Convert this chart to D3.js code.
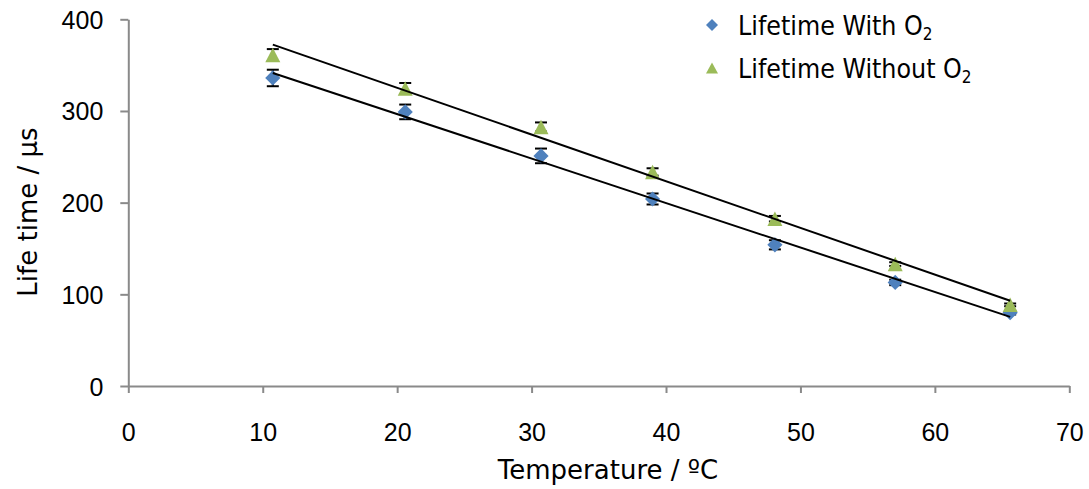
<!DOCTYPE html>
<html>
<head>
<meta charset="utf-8">
<script src="https://cdn.jsdelivr.net/npm/d3@7/dist/d3.min.js"></script>
<style>
  html, body { margin: 0; padding: 0; background: #ffffff; }
  svg { display: block; }
</style>
</head>
<body>
<svg id="chart" width="1089" height="489"></svg>
<script>
// Temperature (°C) of each measurement
const temperatures = [10.75, 20.6, 30.7, 39.0, 48.1, 57.05, 65.6];
// Luminescence lifetime (µs) with oxygen present
const lifetimeWithO2 = [336, 299, 251, 204, 154, 113, 80];
const lifetimeWithO2Err = [9, 8, 8, 6, 5, 3, 2];
// Luminescence lifetime (µs) without oxygen
const lifetimeWithoutO2 = [361, 324.5, 282.5, 233.5, 182.5, 133, 88.5];
const lifetimeWithoutO2Err = [6.5, 6, 5, 4, 3, 2, 1.5];

const xTicks = [0, 10, 20, 30, 40, 50, 60, 70];
const yTicks = [0, 100, 200, 300, 400];

const colorWith = "#4f81bd";
const colorWithout = "#9bbb59";
const axisColor = "#8a8a8a";

const svg = d3.select("#chart");

const x = d3.scaleLinear().domain([0, 70]).range([128.3, 1069.3]);
const y = d3.scaleLinear().domain([0, 400]).range([386, 19.3]);

// Axes
const tickFont = "'Liberation Sans', Arial, sans-serif";

const yAxis = svg.append("g")
  .attr("transform", `translate(${x(0)},0)`)
  .call(d3.axisLeft(y).tickValues(yTicks).tickSize(8).tickSizeOuter(0).tickPadding(17));
const xAxis = svg.append("g")
  .attr("transform", `translate(0,${y(0)})`)
  .call(d3.axisBottom(x).tickValues(xTicks).tickSize(7).tickSizeOuter(0).tickPadding(30));

[yAxis, xAxis].forEach(g => {
  g.select(".domain").attr("stroke", axisColor).attr("stroke-width", 2);
  g.selectAll(".tick line").attr("stroke", axisColor).attr("stroke-width", 2);
  g.selectAll(".tick text")
    .attr("fill", "#000")
    .style("font-family", tickFont)
    .style("font-size", "25px");
});
yAxis.selectAll(".tick text").attr("dy", "0.36em");
xAxis.selectAll(".tick text").attr("dy", "0.71em");

// Axis titles
const titleFont = "'DejaVu Sans Condensed', 'DejaVu Sans', sans-serif";
svg.append("text")
  .attr("x", 608).attr("y", 479)
  .attr("text-anchor", "middle")
  .style("font-family", "'DejaVu Sans', sans-serif").style("font-size", "26px")
  .text("Temperature / ºC");

svg.append("text")
  .attr("transform", "translate(36.5,212) rotate(-90)")
  .attr("text-anchor", "middle")
  .style("font-family", "'DejaVu Sans', sans-serif").style("font-size", "26px")
  .text("Life time / µs");

// Marker shapes
const diamond = s => `M0,${-s}L${s},0L0,${s}L${-s},0Z`;
const triangle = (w, h) => `M0,${-h / 2}L${w / 2},${h / 2}L${-w / 2},${h / 2}Z`;

function drawSeries(values, errors, color, shape) {
  const pts = temperatures.map((t, i) => ({ t, v: values[i], e: errors[i] }));
  const g = svg.append("g");
  // error bars (behind markers)
  const eb = g.selectAll("g.err").data(pts).enter().append("g")
    .attr("stroke", "#000").attr("stroke-width", 2);
  eb.append("line")
    .attr("x1", d => x(d.t)).attr("x2", d => x(d.t))
    .attr("y1", d => y(d.v + d.e)).attr("y2", d => y(d.v - d.e));
  eb.append("line")
    .attr("x1", d => x(d.t) - 6).attr("x2", d => x(d.t) + 6)
    .attr("y1", d => y(d.v + d.e)).attr("y2", d => y(d.v + d.e));
  eb.append("line")
    .attr("x1", d => x(d.t) - 6).attr("x2", d => x(d.t) + 6)
    .attr("y1", d => y(d.v - d.e)).attr("y2", d => y(d.v - d.e));
  // markers
  g.selectAll("path.mk").data(pts).enter().append("path")
    .attr("transform", d => `translate(${x(d.t)},${y(d.v)})`)
    .attr("d", shape)
    .attr("fill", color);
}

drawSeries(lifetimeWithO2, lifetimeWithO2Err, colorWith, diamond(7.6));
drawSeries(lifetimeWithoutO2, lifetimeWithoutO2Err, colorWithout, triangle(15, 14.5));

// Least-squares linear trend lines
function fit(xs, ys) {
  const mx = d3.mean(xs), my = d3.mean(ys);
  const sxy = d3.sum(xs, (v, i) => (v - mx) * (ys[i] - my));
  const sxx = d3.sum(xs, v => (v - mx) * (v - mx));
  const b = sxy / sxx;
  return t => my + b * (t - mx);
}
const trendLine = d3.line().x(d => x(d[0])).y(d => y(d[1]));
const tExtent = d3.extent(temperatures);
[lifetimeWithO2, lifetimeWithoutO2].forEach(vals => {
  const f = fit(temperatures, vals);
  svg.append("path")
    .attr("d", trendLine(tExtent.map(t => [t, f(t)])))
    .attr("fill", "none").attr("stroke", "#000").attr("stroke-width", 2);
});

// Legend
const legendItems = [
  { label: "Lifetime With O", color: colorWith, shape: diamond(6), yc: 25 },
  { label: "Lifetime Without O", color: colorWithout, shape: triangle(12, 11), yc: 68 }
];
const lg = svg.append("g");
legendItems.forEach(item => {
  lg.append("path")
    .attr("transform", `translate(712,${item.yc})`)
    .attr("d", item.shape).attr("fill", item.color);
  const t = lg.append("text")
    .attr("x", 738).attr("y", item.yc + 9.5)
    .style("font-family", titleFont).style("font-size", "26.5px");
  t.append("tspan").text(item.label);
  t.append("tspan").attr("dy", 5).style("font-size", "17px").text("2");
});
</script>
</body>
</html>
